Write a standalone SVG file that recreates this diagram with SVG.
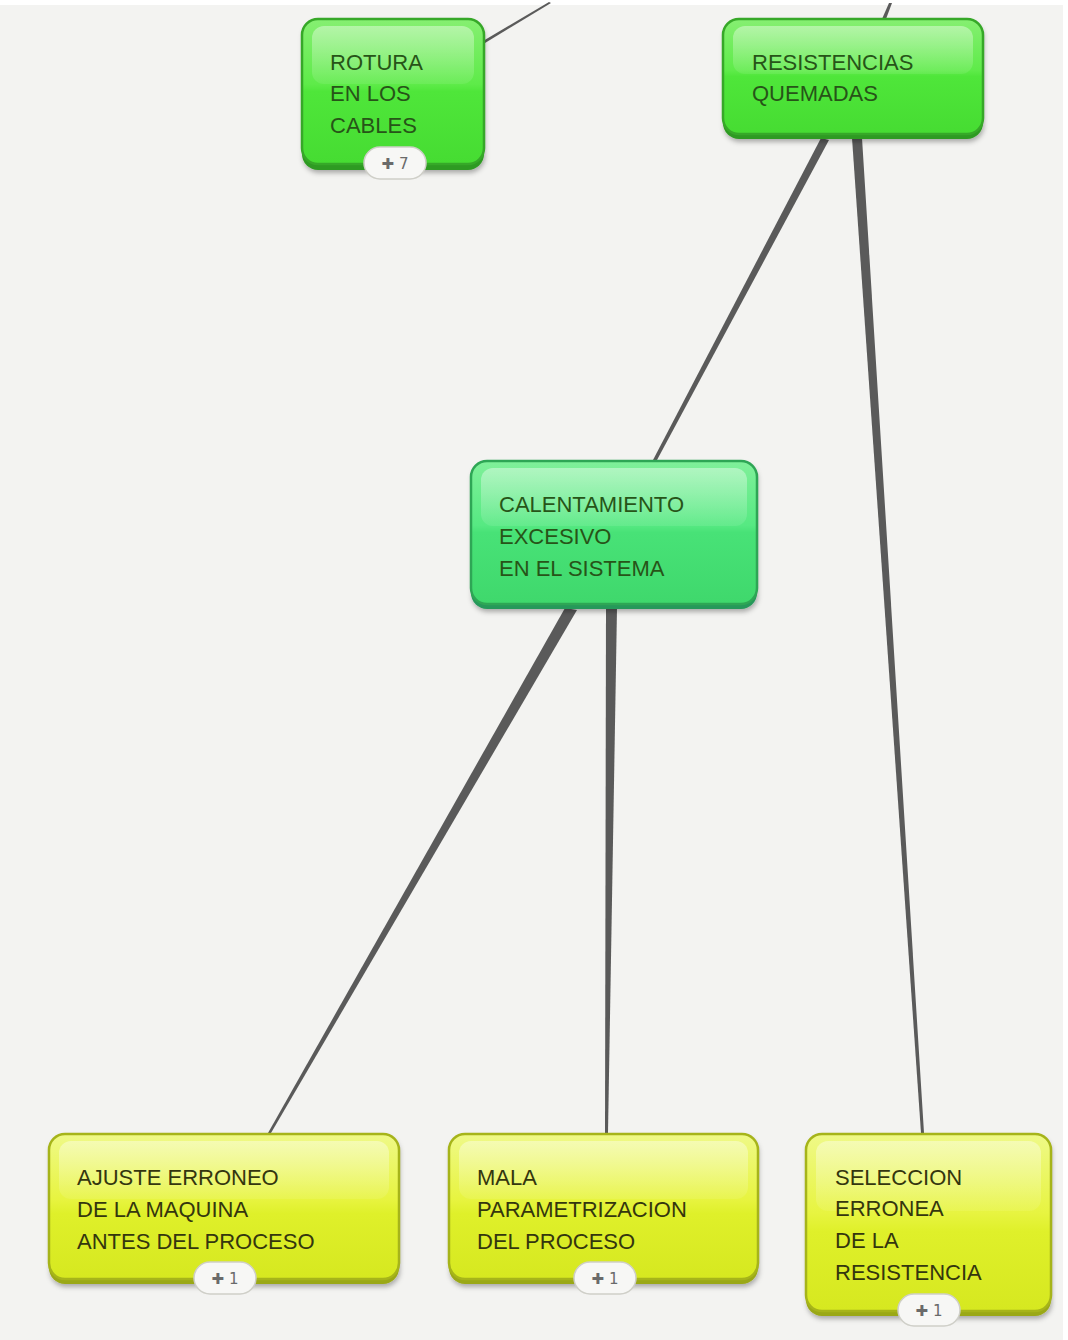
<svg xmlns="http://www.w3.org/2000/svg" width="1068" height="1340" viewBox="0 0 1068 1340">
<defs>
<linearGradient id="gG" x1="0" y1="0" x2="0" y2="1">
<stop offset="0" stop-color="#86ef72"/><stop offset="0.45" stop-color="#5eeb49"/><stop offset="0.5" stop-color="#4fe63a"/><stop offset="1" stop-color="#46dc32"/>
</linearGradient>
<linearGradient id="gT" x1="0" y1="0" x2="0" y2="1">
<stop offset="0" stop-color="#80f09a"/><stop offset="0.45" stop-color="#56e982"/><stop offset="0.5" stop-color="#48e277"/><stop offset="1" stop-color="#3fd86c"/>
</linearGradient>
<linearGradient id="gY" x1="0" y1="0" x2="0" y2="1">
<stop offset="0" stop-color="#eff988"/><stop offset="0.45" stop-color="#e7f440"/><stop offset="0.55" stop-color="#dff02a"/><stop offset="1" stop-color="#d6e820"/>
</linearGradient>
<linearGradient id="gloss" x1="0" y1="0" x2="0" y2="1">
<stop offset="0" stop-color="#ffffff" stop-opacity="0.4"/><stop offset="1" stop-color="#ffffff" stop-opacity="0.08"/>
</linearGradient>
<filter id="sh" x="-10%" y="-10%" width="125%" height="130%">
<feDropShadow dx="1" dy="3" stdDeviation="2.5" flood-color="#000" flood-opacity="0.3"/>
</filter>
</defs>
<style>
.tg{font-family:"Liberation Sans",Arial,sans-serif;font-size:22px;fill:#275418}
.ty{font-family:"Liberation Sans",Arial,sans-serif;font-size:22px;fill:#34360e}
.bg{fill:url(#gG);stroke:#36a828;stroke-width:2.5}
.bt{fill:url(#gT);stroke:#2ea655;stroke-width:2.5}
.by{fill:url(#gY);stroke:#a6b41a;stroke-width:2.5}
.dg{fill:#2f9a22}
.dt{fill:#27985a}
.dy{fill:#9aa816}
.gl{fill:url(#gloss)}
.badge{fill:#f7f7f5;stroke:#cfcfc8;stroke-width:1.5}
.bt2{font-family:"DejaVu Sans",sans-serif;font-size:15px;fill:#6a6a6a}
.conn{fill:#5a5a5a}
</style>
<rect x="0" y="0" width="1068" height="1340" fill="#f3f3f1"/>
<rect x="0" y="0" width="1068" height="5" fill="#ffffff"/>
<rect x="1063" y="0" width="5" height="1340" fill="#ffffff"/>

<g id="connectors">
<polygon class="conn" points="483,41 485,43 551,3 549,2"/>
<polygon class="conn" points="882,19 886,19 892,3 889,3"/>
<polygon class="conn" points="821,138 829,140 657,460 653,460"/>
<polygon class="conn" points="852,138 862,138 924,1133 921,1133"/>
<polygon class="conn" points="565,608 577,610 271,1133 268,1133"/>
<polygon class="conn" points="606,608 617,608 608,1133 605,1133"/>
</g>

<g id="node-rotura">
<rect class="dg" x="302" y="19" width="182" height="151" rx="16" filter="url(#sh)"/>
<rect class="bg" x="302" y="19" width="182" height="145" rx="16"/>
<rect class="gl" x="312" y="26" width="162" height="58" rx="12"/>
<text class="tg" x="330" y="70">ROTURA</text>
<text class="tg" x="330" y="101">EN LOS</text>
<text class="tg" x="330" y="133">CABLES</text>
<rect class="badge" x="364" y="147" width="62" height="32" rx="16"/>
<text class="bt2" x="395" y="169" text-anchor="middle">✚ 7</text>
</g>

<g id="node-resistencias">
<rect class="dg" x="723" y="19" width="260" height="120" rx="16" filter="url(#sh)"/>
<rect class="bg" x="723" y="19" width="260" height="115" rx="16"/>
<rect class="gl" x="733" y="26" width="240" height="48" rx="12"/>
<text class="tg" x="752" y="70">RESISTENCIAS</text>
<text class="tg" x="752" y="101">QUEMADAS</text>
</g>

<g id="node-calentamiento">
<rect class="dt" x="471" y="461" width="286" height="148" rx="16" filter="url(#sh)"/>
<rect class="bt" x="471" y="461" width="286" height="143" rx="16"/>
<rect class="gl" x="481" y="468" width="266" height="58" rx="12"/>
<text class="tg" x="499" y="512">CALENTAMIENTO</text>
<text class="tg" x="499" y="544">EXCESIVO</text>
<text class="tg" x="499" y="576">EN EL SISTEMA</text>
</g>

<g id="node-ajuste">
<rect class="dy" x="49" y="1134" width="350" height="150" rx="16" filter="url(#sh)"/>
<rect class="by" x="49" y="1134" width="350" height="145" rx="16"/>
<rect class="gl" x="59" y="1141" width="330" height="58" rx="12"/>
<text class="ty" x="77" y="1185">AJUSTE ERRONEO</text>
<text class="ty" x="77" y="1217">DE LA MAQUINA</text>
<text class="ty" x="77" y="1249">ANTES DEL PROCESO</text>
<rect class="badge" x="194" y="1262" width="62" height="32" rx="16"/>
<text class="bt2" x="225" y="1284" text-anchor="middle">✚ 1</text>
</g>

<g id="node-mala">
<rect class="dy" x="449" y="1134" width="309" height="150" rx="16" filter="url(#sh)"/>
<rect class="by" x="449" y="1134" width="309" height="145" rx="16"/>
<rect class="gl" x="459" y="1141" width="289" height="58" rx="12"/>
<text class="ty" x="477" y="1185">MALA</text>
<text class="ty" x="477" y="1217">PARAMETRIZACION</text>
<text class="ty" x="477" y="1249">DEL PROCESO</text>
<rect class="badge" x="574" y="1262" width="62" height="32" rx="16"/>
<text class="bt2" x="605" y="1284" text-anchor="middle">✚ 1</text>
</g>

<g id="node-seleccion">
<rect class="dy" x="806" y="1134" width="245" height="182" rx="16" filter="url(#sh)"/>
<rect class="by" x="806" y="1134" width="245" height="177" rx="16"/>
<rect class="gl" x="816" y="1141" width="225" height="70" rx="12"/>
<text class="ty" x="835" y="1185">SELECCION</text>
<text class="ty" x="835" y="1216">ERRONEA</text>
<text class="ty" x="835" y="1248">DE LA</text>
<text class="ty" x="835" y="1280">RESISTENCIA</text>
<rect class="badge" x="898" y="1294" width="62" height="32" rx="16"/>
<text class="bt2" x="929" y="1316" text-anchor="middle">✚ 1</text>
</g>
</svg>
